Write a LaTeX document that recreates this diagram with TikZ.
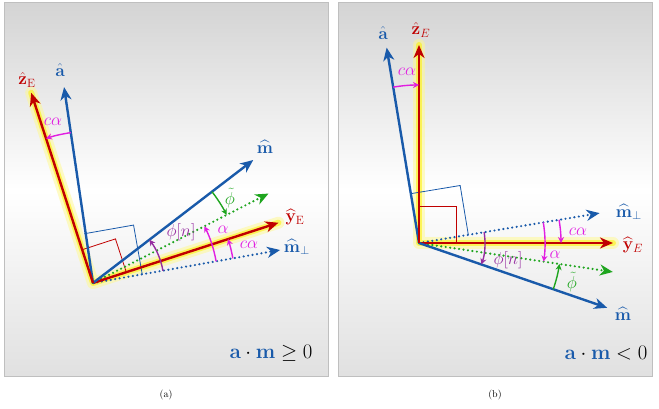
\documentclass[tikz,border=0pt]{standalone}
\usepackage{amsmath,amssymb}
\usepackage{xcolor}
\usepackage{tikz}
\usetikzlibrary{arrows.meta, calc, positioning}
\definecolor{vblue}{RGB}{25,90,170}
\definecolor{vred}{RGB}{192,0,0}
\definecolor{vgreen}{RGB}{30,165,30}
\definecolor{vmag}{RGB}{225,30,225}
\definecolor{vpurple}{RGB}{150,45,160}
\tikzset{
  panel/.style={draw=black!25, line width=1pt, top color=black!17, bottom color=black!12, middle color=white},
  vec/.style={-{Stealth[length=13pt,width=11pt,inset=4pt]}, line width=2.4pt},
  dvec/.style={vec, line cap=round, dash pattern=on 0pt off 4.5pt},
  glow/.style={line width=12pt, yellow!45, opacity=0.5, line cap=round, line join=round},
  glowin/.style={line width=6pt, yellow, opacity=0.55, line cap=round, line join=round},
  ang/.style={-{Stealth[length=6pt,width=6pt]}, line width=1.4pt, vmag},
  rangle/.style={line width=0.8pt},
  vlabel/.style={font=\fontsize{17}{19}\selectfont, inner sep=1pt},
  alabel/.style={font=\fontsize{16}{18}\selectfont, inner sep=1pt},
  dotlabel/.style={font=\fontsize{20}{24}\selectfont, inner sep=1pt},
}

\begin{document}
\begin{tikzpicture}[x=1pt, y=1pt]
  \useasboundingbox (0,0) rectangle (659,409);

  % Panel frames and captions
  \foreach \x/\w/\sub in {4/324/a, 338/314/b} {
    \draw[panel] (\x,32) rectangle ++(\w,374);
    \node[font=\fontsize{10}{12}\selectfont] (cap\sub) at ({\x+\w/2},14) {(\sub)};
  }

  % ---------------- Panel (a): a.m >= 0 ----------------
  \coordinate (Oa) at (93,126);
  \coordinate (mpa) at ($(Oa)+(10:190)$);
  \coordinate (ya) at ($(Oa)+(18:195)$);
  \coordinate (ga) at ($(Oa)+(27:197)$);
  \coordinate (ma) at ($(Oa)+(37.5:202)$);
  \coordinate (aa) at ($(Oa)+(98.4:198)$);
  \coordinate (za) at ($(Oa)+(108:200)$);

  \draw[glow] (za) -- (Oa) -- (ya);
  \draw[glowin] (za) -- (Oa) -- (ya);

  % right angles
  \draw[rangle, vblue] ($(Oa)+(10:50)$) -- ++(100:50) -- ++(190:50);
  \draw[rangle, vred] ($(Oa)+(18:35)$) -- ++(108:35) -- ++(198:35);

  \draw[dvec, vblue] (Oa) -- (mpa);
  \draw[dvec, vgreen] (Oa) -- (ga);
  \draw[vec, vred] (Oa) -- (ya);
  \draw[vec, vblue] (Oa) -- (ma);
  \draw[vec, vblue] (Oa) -- (aa);
  \draw[vec, vred] (Oa) -- (za);

  % angles
  \draw[ang] ($(Oa)+(98.4:152)$) arc[start angle=98.4, end angle=108, radius=152];
  \draw[ang, vpurple] ($(Oa)+(10:71)$) arc[start angle=10, end angle=37.5, radius=71];
  \draw[ang] ($(Oa)+(10:125)$) arc[start angle=10, end angle=27, radius=125];
  \draw[ang] ($(Oa)+(10:142)$) arc[start angle=10, end angle=18, radius=142];
  \draw[ang, vgreen] ($(Oa)+(37.5:150)$) arc[start angle=37.5, end angle=27, radius=150];

  \node[vlabel, text=vred] (lza) at (27,329) {$\hat{\mathbf{z}}_{\mathrm{E}}$};
  \node[vlabel, text=vblue] (laa) at (60,339) {$\hat{\mathbf{a}}$};
  \node[vlabel, text=vblue] (lma) at (265,262) {$\widehat{\mathbf{m}}$};
  \node[vlabel, text=vred] (lya) at (295,192) {$\widehat{\mathbf{y}}_{\mathrm{E}}$};
  \node[vlabel, text=vblue] (lmpa) at (297,162) {$\widehat{\mathbf{m}}_{\perp}$};
  \node[alabel, text=vmag] (lcta) at (53,287) {$c\alpha$};
  \node[alabel, text=vpurple] (lpha) at (181,177) {$\phi[n]$};
  \node[alabel, text=vmag] (lala) at (223,179) {$\alpha$};
  \node[alabel, text=vmag] (lca) at (249,164) {$c\alpha$};
  \node[alabel, text=vgreen] (lpta) at (230,211) {$\tilde{\phi}$};
  \node[dotlabel] (conda) at (271,56) {$\textcolor{vblue}{\mathbf{a}}\cdot\textcolor{vblue}{\mathbf{m}}\geq 0$};

  % ---------------- Panel (b): a.m < 0 ----------------
  \coordinate (Ob) at (419,166);
  \coordinate (mpb) at ($(Ob)+(9.4:183)$);
  \coordinate (yb) at ($(Ob)+(0:194)$);
  \coordinate (gb) at ($(Ob)+(-8.5:196)$);
  \coordinate (mb) at ($(Ob)+(-19:199)$);
  \coordinate (ab) at ($(Ob)+(99.4:198)$);
  \coordinate (zb) at ($(Ob)+(90:198)$);

  \draw[glow] (zb) -- (Ob) -- (yb);
  \draw[glowin] (zb) -- (Ob) -- (yb);

  % right angles
  \draw[rangle, vblue] ($(Ob)+(9.4:50)$) -- ++(99.4:50) -- ++(189.4:50);
  \draw[rangle, vred] ($(Ob)+(0:37)$) -- ++(90:37) -- ++(180:37);

  \draw[dvec, vblue] (Ob) -- (mpb);
  \draw[dvec, vgreen] (Ob) -- (gb);
  \draw[vec, vred] (Ob) -- (yb);
  \draw[vec, vblue] (Ob) -- (mb);
  \draw[vec, vblue] (Ob) -- (ab);
  \draw[vec, vred] (Ob) -- (zb);

  % angles
  \draw[ang] ($(Ob)+(99.4:158)$) arc[start angle=99.4, end angle=90, radius=158];
  \draw[ang, vpurple] ($(Ob)+(9.4:66)$) arc[start angle=9.4, end angle=-19, radius=66];
  \draw[ang] ($(Ob)+(9.4:126)$) arc[start angle=9.4, end angle=-8.5, radius=126];
  \draw[ang] ($(Ob)+(9.4:142)$) arc[start angle=9.4, end angle=0, radius=142];
  \draw[ang, vgreen] ($(Ob)+(-19:142)$) arc[start angle=-19, end angle=-8.5, radius=142];

  \node[vlabel, text=vred] (lzb) at (421,379) {$\hat{\mathbf{z}}_{E}$};
  \node[vlabel, text=vblue] (lab) at (383,376) {$\hat{\mathbf{a}}$};
  \node[vlabel, text=vblue] (lmb) at (623,95) {$\widehat{\mathbf{m}}$};
  \node[vlabel, text=vred] (lyb) at (633,164) {$\widehat{\mathbf{y}}_{E}$};
  \node[vlabel, text=vblue] (lmpb) at (629,197) {$\widehat{\mathbf{m}}_{\perp}$};
  \node[alabel, text=vmag] (lctb) at (407,337) {$c\alpha$};
  \node[alabel, text=vpurple] (lphb) at (508,149) {$\phi[n]$};
  \node[alabel, text=vmag] (lalb) at (555,154) {$\alpha$};
  \node[alabel, text=vmag] (lcb) at (578,177) {$c\alpha$};
  \node[alabel, text=vgreen] (lptb) at (572,127) {$\tilde{\phi}$};
  \node[dotlabel] (condb) at (606,56) {$\textcolor{vblue}{\mathbf{a}}\cdot\textcolor{vblue}{\mathbf{m}}<0$};
\end{tikzpicture}
\end{document}
